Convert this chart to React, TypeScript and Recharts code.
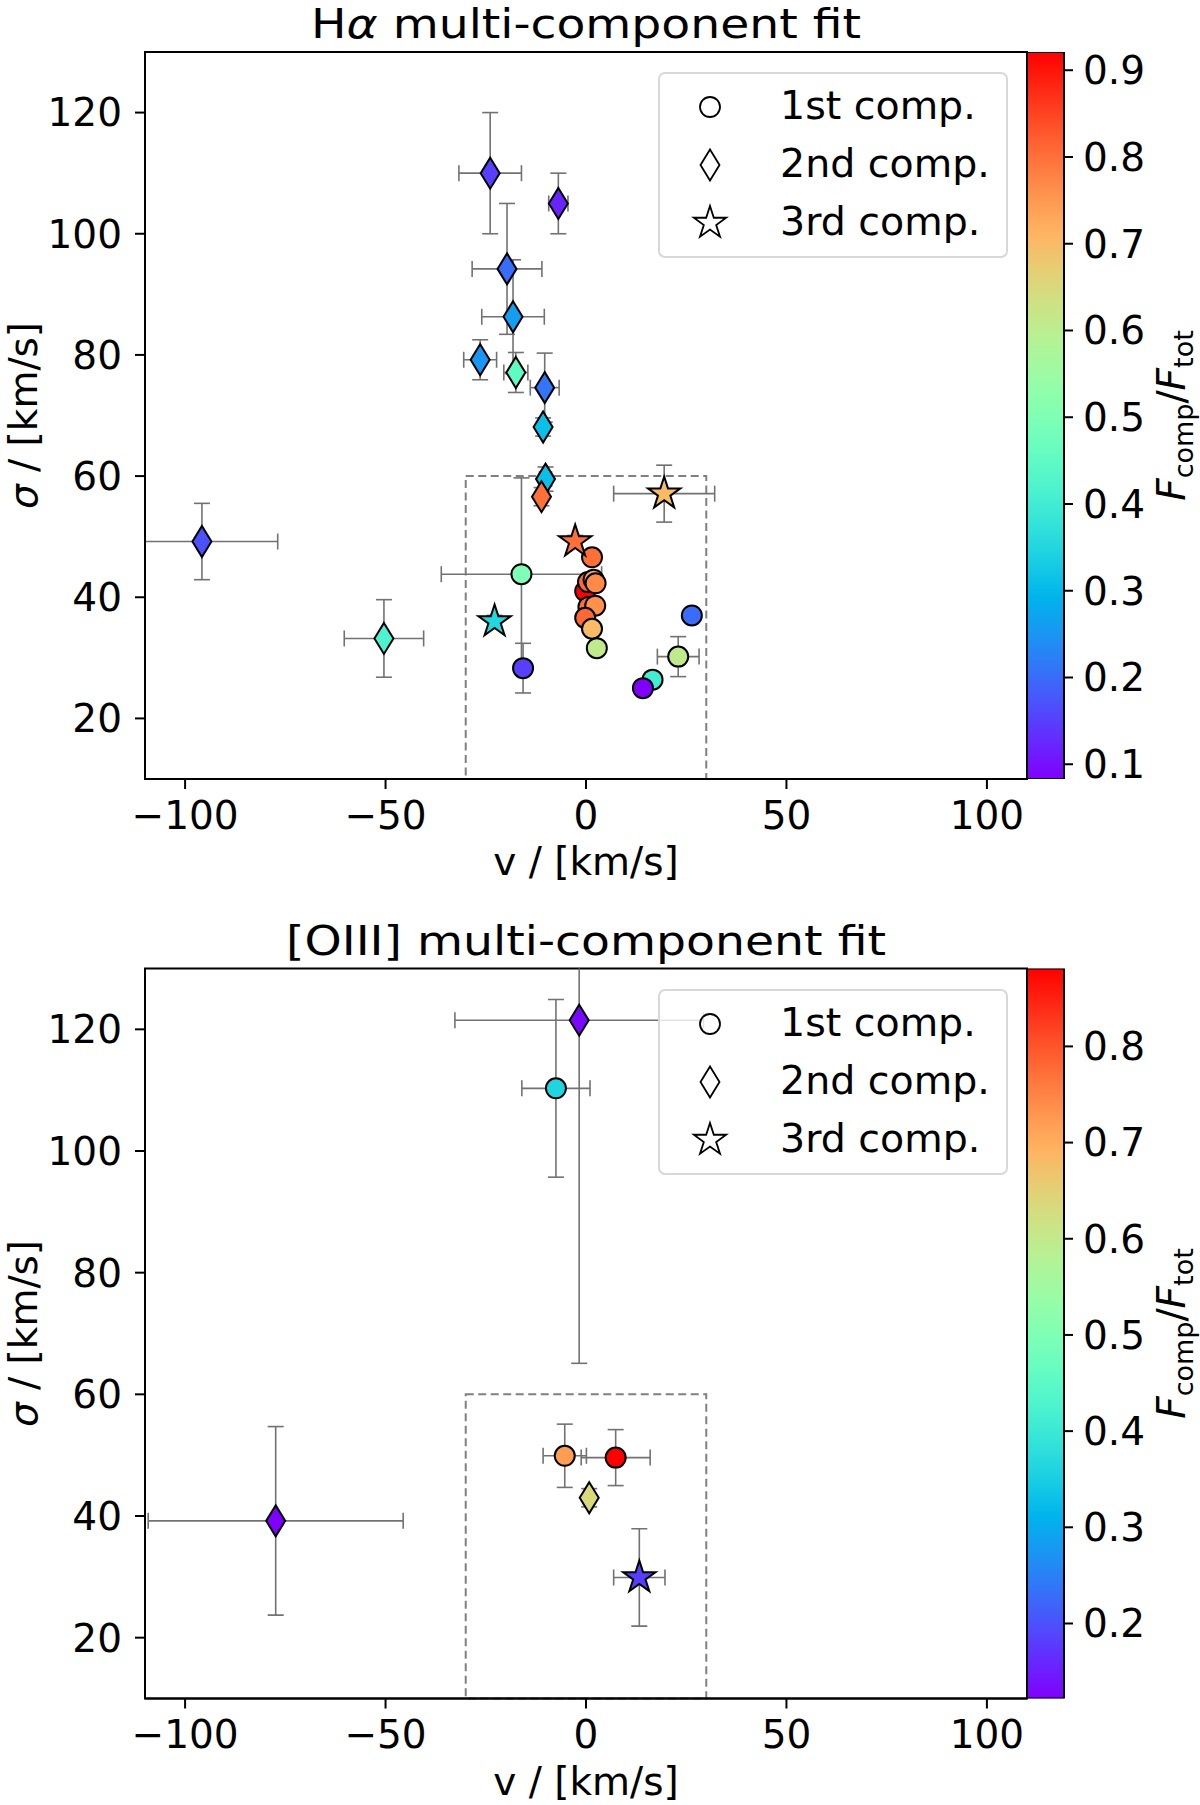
import type { ReactNode } from "react";
import {
  Bar,
  BarChart,
  ErrorBar,
  Legend,
  ReferenceArea,
  Scatter,
  ScatterChart,
  XAxis,
  YAxis,
} from "recharts";

// each row: [v, sigma, v error, sigma error, F_comp / F_tot]
type Row = [number, number, number, number, number];

const haFirst: Row[] = [
  [-16.1, 43.8, 20.0, 15.9, 0.5],
  [-15.7, 28.3, 1.0, 4.1, 0.15],
  [1.5, 46.6, 0.8, 1.0, 0.8],
  [-0.2, 41.0, 0.8, 1.0, 0.921],
  [0.5, 42.5, 0.8, 1.0, 0.81],
  [1.9, 42.9, 0.8, 1.0, 0.73],
  [2.4, 42.3, 0.8, 1.0, 0.77],
  [0.6, 38.4, 0.8, 1.0, 0.8],
  [2.3, 38.6, 0.8, 1.0, 0.76],
  [-0.2, 36.6, 0.8, 1.0, 0.81],
  [1.5, 34.8, 0.8, 1.0, 0.7],
  [2.7, 31.6, 0.8, 1.0, 0.61],
  [26.4, 37.0, 0.8, 1.0, 0.2],
  [23.0, 30.2, 5.2, 3.3, 0.61],
  [16.6, 26.4, 0.8, 1.0, 0.4],
  [14.2, 25.0, 0.8, 1.0, 0.083],
];

const haSecond: Row[] = [
  [-23.9, 110.0, 7.8, 10.0, 0.15],
  [-6.9, 105.0, 2.4, 5.0, 0.12],
  [-19.7, 94.2, 8.7, 10.8, 0.2],
  [-18.2, 86.3, 7.8, 9.4, 0.26],
  [-26.4, 79.2, 4.1, 3.3, 0.25],
  [-17.5, 77.1, 3.0, 3.3, 0.45],
  [-10.3, 74.6, 3.6, 5.7, 0.21],
  [-10.7, 68.1, 1.0, 1.5, 0.31],
  [-10.1, 59.5, 1.5, 2.0, 0.31],
  [-11.1, 56.6, 1.0, 1.5, 0.8],
  [-95.8, 49.2, 18.9, 6.3, 0.17],
  [-50.4, 33.2, 9.9, 6.4, 0.42],
];

const haThird: Row[] = [
  [-22.8, 36.0, 0.8, 1.0, 0.35],
  [-2.7, 49.2, 0.8, 1.0, 0.8],
  [19.5, 57.1, 12.6, 4.7, 0.7],
];

const oiiiFirst: Row[] = [
  [-7.5, 110.3, 8.5, 14.6, 0.36],
  [-5.3, 49.9, 5.4, 5.2, 0.72],
  [7.4, 49.6, 8.6, 4.6, 0.881],
];

const oiiiSecond: Row[] = [
  [-1.7, 121.5, 31.0, 56.4, 0.13],
  [-77.4, 39.2, 31.8, 15.5, 0.122],
  [0.8, 43.0, 1.0, 1.5, 0.635],
];

const oiiiThird: Row[] = [[13.3, 29.9, 6.4, 8.0, 0.18]];

const componentNames = ["1st comp.", "2nd comp.", "3rd comp."];
const vTicks = [-100, -50, 0, 50, 100];
const sigmaTicks = [20, 40, 60, 80, 100, 120];
const haFracTicks = [0.1, 0.2, 0.3, 0.4, 0.5, 0.6, 0.7, 0.8, 0.9];
const oiiiFracTicks = [0.2, 0.3, 0.4, 0.5, 0.6, 0.7, 0.8];
const vDomain = [-110, 110];
const sigmaDomain = [10, 130];
// the |v| < 30, sigma < 60 window
const boxV = [-30, 30];
const boxSigma = [10, 60];

const FONT = "DejaVu Sans, Verdana, sans-serif";
const WIDTH = 1200;
const PLOT_LEFT = 145;
const PLOT_RIGHT = 1027;
const CBAR_WIDTH = 37;
const TICK_FONT = 39;

const axisStroke = { stroke: "#000", strokeWidth: 2 };
const tickText = { fontSize: TICK_FONT, fill: "#000", fontFamily: FONT };

// matplotlib "rainbow" colormap
function rainbow(t: number) {
  const x = Math.min(1, Math.max(0, t));
  const ch = (c: number) => Math.round(Math.min(1, Math.max(0, c)) * 255);
  const r = Math.abs(2 * x - 0.5);
  const g = Math.sin(Math.PI * x);
  const b = Math.cos((Math.PI * x) / 2);
  return `rgb(${ch(r)},${ch(g)},${ch(b)})`;
}

const fmtV = (t: number) => (t < 0 ? `\u2212${-t}` : `${t}`);

function Marker({
  kind,
  cx,
  cy,
  fill,
  strokeWidth,
}: {
  kind: number;
  cx: number;
  cy: number;
  fill: string;
  strokeWidth: number;
}) {
  if (kind === 0) {
    return <circle cx={cx} cy={cy} r={10} fill={fill} stroke="#000" strokeWidth={strokeWidth} />;
  }
  let d = "";
  if (kind === 1) {
    d = `M${cx},${cy - 15.5}L${cx + 9.5},${cy}L${cx},${cy + 15.5}L${cx - 9.5},${cy}Z`;
  } else {
    const R = 17;
    const pts: string[] = [];
    for (let i = 0; i < 10; i++) {
      const a = -Math.PI / 2 + (i * Math.PI) / 5;
      const r = i % 2 === 0 ? R : R * 0.382;
      pts.push(`${cx + r * Math.cos(a)},${cy + r * Math.sin(a)}`);
    }
    d = `M${pts.join("L")}Z`;
  }
  return <path d={d} fill={fill} stroke="#000" strokeWidth={strokeWidth} strokeLinejoin="miter" />;
}

function renderLegend(props: any) {
  const names: string[] = (props.payload ?? []).map((e: any) => String(e.value));
  return (
    <div
      style={{
        width: 350,
        height: 186,
        boxSizing: "border-box",
        border: "2px solid #d8d8d8",
        borderRadius: 7,
        background: "rgba(255,255,255,0.8)",
      }}
    >
      <svg width={346} height={182} style={{ display: "block" }}>
        {names.map((name) => {
          const i = componentNames.indexOf(name);
          return (
            <g key={name}>
              <Marker kind={i} cx={50} cy={33 + i * 58} fill="none" strokeWidth={1.8} />
              <text x={120} y={45 + i * 58} fontSize={39.5} fontFamily={FONT} fill="#000">
                {name}
              </text>
            </g>
          );
        })}
      </svg>
    </div>
  );
}

type PanelProps = {
  id: string;
  title: ReactNode;
  titleWidth: number;
  top: number;
  height: number;
  plotTop: number;
  plotBottom: number;
  series: Row[][];
  fracTicks: number[];
};

function Panel({ id, title, titleWidth, top, height, plotTop, plotBottom, series, fracTicks }: PanelProps) {
  const fracs = series.flat().map((r) => r[4]);
  const lo = Math.min(...fracs);
  const hi = Math.max(...fracs);
  const toRows = (rows: Row[]) =>
    rows.map(([v, sigma, vErr, sigmaErr, frac]) => ({
      v,
      sigma,
      vErr,
      sigmaErr,
      frac,
      color: rainbow((frac - lo) / (hi - lo)),
    }));
  const midX = (PLOT_LEFT + PLOT_RIGHT) / 2;
  const midY = (plotTop + plotBottom) / 2;
  const stops = Array.from({ length: 21 }, (_, i) => i / 20);
  const clipId = `plot-clip-${id}`;

  return (
    <div className={`panel-${id}`} style={{ position: "absolute", left: 0, top, width: WIDTH, height }}>
      {/* error bars are clipped to the axes box, as the markers are */}
      <style>{`.panel-${id} .recharts-errorBars, .panel-${id} .recharts-errorBar { clip-path: url(#${clipId}); }`}</style>
      <ScatterChart
        width={WIDTH}
        height={height}
        margin={{ top: plotTop, right: WIDTH - PLOT_RIGHT, bottom: 0, left: 0 }}
      >
        <defs>
          <clipPath id={clipId}>
            <rect
              x={PLOT_LEFT}
              y={plotTop}
              width={PLOT_RIGHT - PLOT_LEFT}
              height={plotBottom - plotTop}
            />
          </clipPath>
        </defs>
        <XAxis
          type="number"
          dataKey="v"
          domain={vDomain}
          ticks={vTicks}
          interval={0}
          allowDataOverflow
          height={height - plotBottom}
          tickFormatter={fmtV}
          tick={tickText}
          tickSize={10}
          tickMargin={12}
          axisLine={axisStroke}
          tickLine={axisStroke}
        />
        <YAxis
          type="number"
          dataKey="sigma"
          domain={sigmaDomain}
          ticks={sigmaTicks}
          interval={0}
          allowDataOverflow
          width={PLOT_LEFT}
          tick={tickText}
          tickSize={10}
          tickMargin={13}
          axisLine={axisStroke}
          tickLine={axisStroke}
        />
        <ReferenceArea
          x1={boxV[0]}
          x2={boxV[1]}
          y1={boxSigma[0]}
          y2={boxSigma[1]}
          fill="none"
          stroke="#808080"
          strokeWidth={2}
          strokeDasharray="8 4.5"
        />
        {series.map((rows, i) => (
          <Scatter
            key={componentNames[i]}
            name={componentNames[i]}
            data={toRows(rows)}
            isAnimationActive={false}
            shape={(p: any) => (
              <Marker kind={i} cx={p.cx} cy={p.cy} fill={p.payload.color} strokeWidth={2} />
            )}
          >
            <ErrorBar
              dataKey="vErr"
              direction="x"
              width={8}
              stroke="#727272"
              strokeWidth={1.6}
              clipPath={`url(#${clipId})`}
            />
            <ErrorBar
              dataKey="sigmaErr"
              direction="y"
              width={8}
              stroke="#727272"
              strokeWidth={1.6}
              clipPath={`url(#${clipId})`}
            />
          </Scatter>
        ))}
        <ReferenceArea
          x1={vDomain[0]}
          x2={vDomain[1]}
          y1={sigmaDomain[0]}
          y2={sigmaDomain[1]}
          fill="none"
          stroke="#000"
          strokeWidth={2}
        />
        <Legend
          layout="vertical"
          align="center"
          verticalAlign="middle"
          content={renderLegend}
          wrapperStyle={{ left: 658, top: plotTop + 20, width: 350, height: 186 }}
        />
      </ScatterChart>

      {/* colorbar */}
      <div style={{ position: "absolute", left: PLOT_RIGHT, top: 0 }}>
        <BarChart
          width={WIDTH - PLOT_RIGHT}
          height={height}
          data={[{ name: "cbar", range: [lo, hi] }]}
          margin={{ top: plotTop, right: 0, bottom: height - plotBottom, left: 0 }}
          barCategoryGap={0}
          barGap={0}
        >
          <defs>
            <linearGradient id={`cbar-${id}`} x1="0" y1="1" x2="0" y2="0">
              {stops.map((s) => (
                <stop key={s} offset={s} stopColor={rainbow(s)} />
              ))}
            </linearGradient>
          </defs>
          <XAxis dataKey="name" hide />
          <YAxis
            orientation="right"
            type="number"
            domain={[lo, hi]}
            ticks={fracTicks}
            interval={0}
            allowDataOverflow
            width={WIDTH - PLOT_RIGHT - CBAR_WIDTH}
            tickFormatter={(t: number) => t.toFixed(1)}
            tick={tickText}
            tickSize={9}
            tickMargin={10}
            axisLine={false}
            tickLine={axisStroke}
          />
          <Bar
            dataKey="range"
            fill={`url(#cbar-${id})`}
            stroke="#000"
            strokeWidth={2}
            isAnimationActive={false}
          />
        </BarChart>
      </div>

      <svg
        width={WIDTH}
        height={height}
        style={{ position: "absolute", left: 0, top: 0, pointerEvents: "none" }}
        fontFamily={FONT}
        fill="#000"
      >
        <text
          x={midX}
          y={plotTop - 14}
          textAnchor="middle"
          fontSize={41}
          textLength={titleWidth}
          lengthAdjust="spacingAndGlyphs"
        >
          {title}
        </text>
        <text x={midX} y={plotBottom + 96} textAnchor="middle" fontSize={TICK_FONT}>
          v / [km/s]
        </text>
        <text transform={`translate(36.5 ${midY}) rotate(-90)`} textAnchor="middle" fontSize={TICK_FONT}>
          <tspan fontStyle="italic">σ</tspan> / [km/s]
        </text>
        <text transform={`translate(1185 ${midY}) rotate(-90)`} textAnchor="middle" fontSize={TICK_FONT}>
          <tspan fontStyle="italic">F</tspan>
          <tspan fontSize={27} dy={8}>
            comp
          </tspan>
          <tspan dy={-8}>/</tspan>
          <tspan fontStyle="italic">F</tspan>
          <tspan fontSize={27} dy={8}>
            tot
          </tspan>
        </text>
      </svg>
    </div>
  );
}

export default function App() {
  return (
    <div
      style={{
        position: "absolute",
        left: 0,
        top: 0,
        width: WIDTH,
        height: 1805,
        background: "#fff",
        fontFamily: FONT,
      }}
    >
      <Panel
        id="ha"
        title={
          <>
            H<tspan fontStyle="italic">α</tspan> multi-component fit
          </>
        }
        titleWidth={550}
        top={0}
        height={900}
        plotTop={52}
        plotBottom={779}
        series={[haFirst, haSecond, haThird]}
        fracTicks={haFracTicks}
      />
      <Panel
        id="oiii"
        title="[OIII] multi-component fit"
        titleWidth={600}
        top={900}
        height={905}
        plotTop={68.5}
        plotBottom={798.5}
        series={[oiiiFirst, oiiiSecond, oiiiThird]}
        fracTicks={oiiiFracTicks}
      />
    </div>
  );
}
